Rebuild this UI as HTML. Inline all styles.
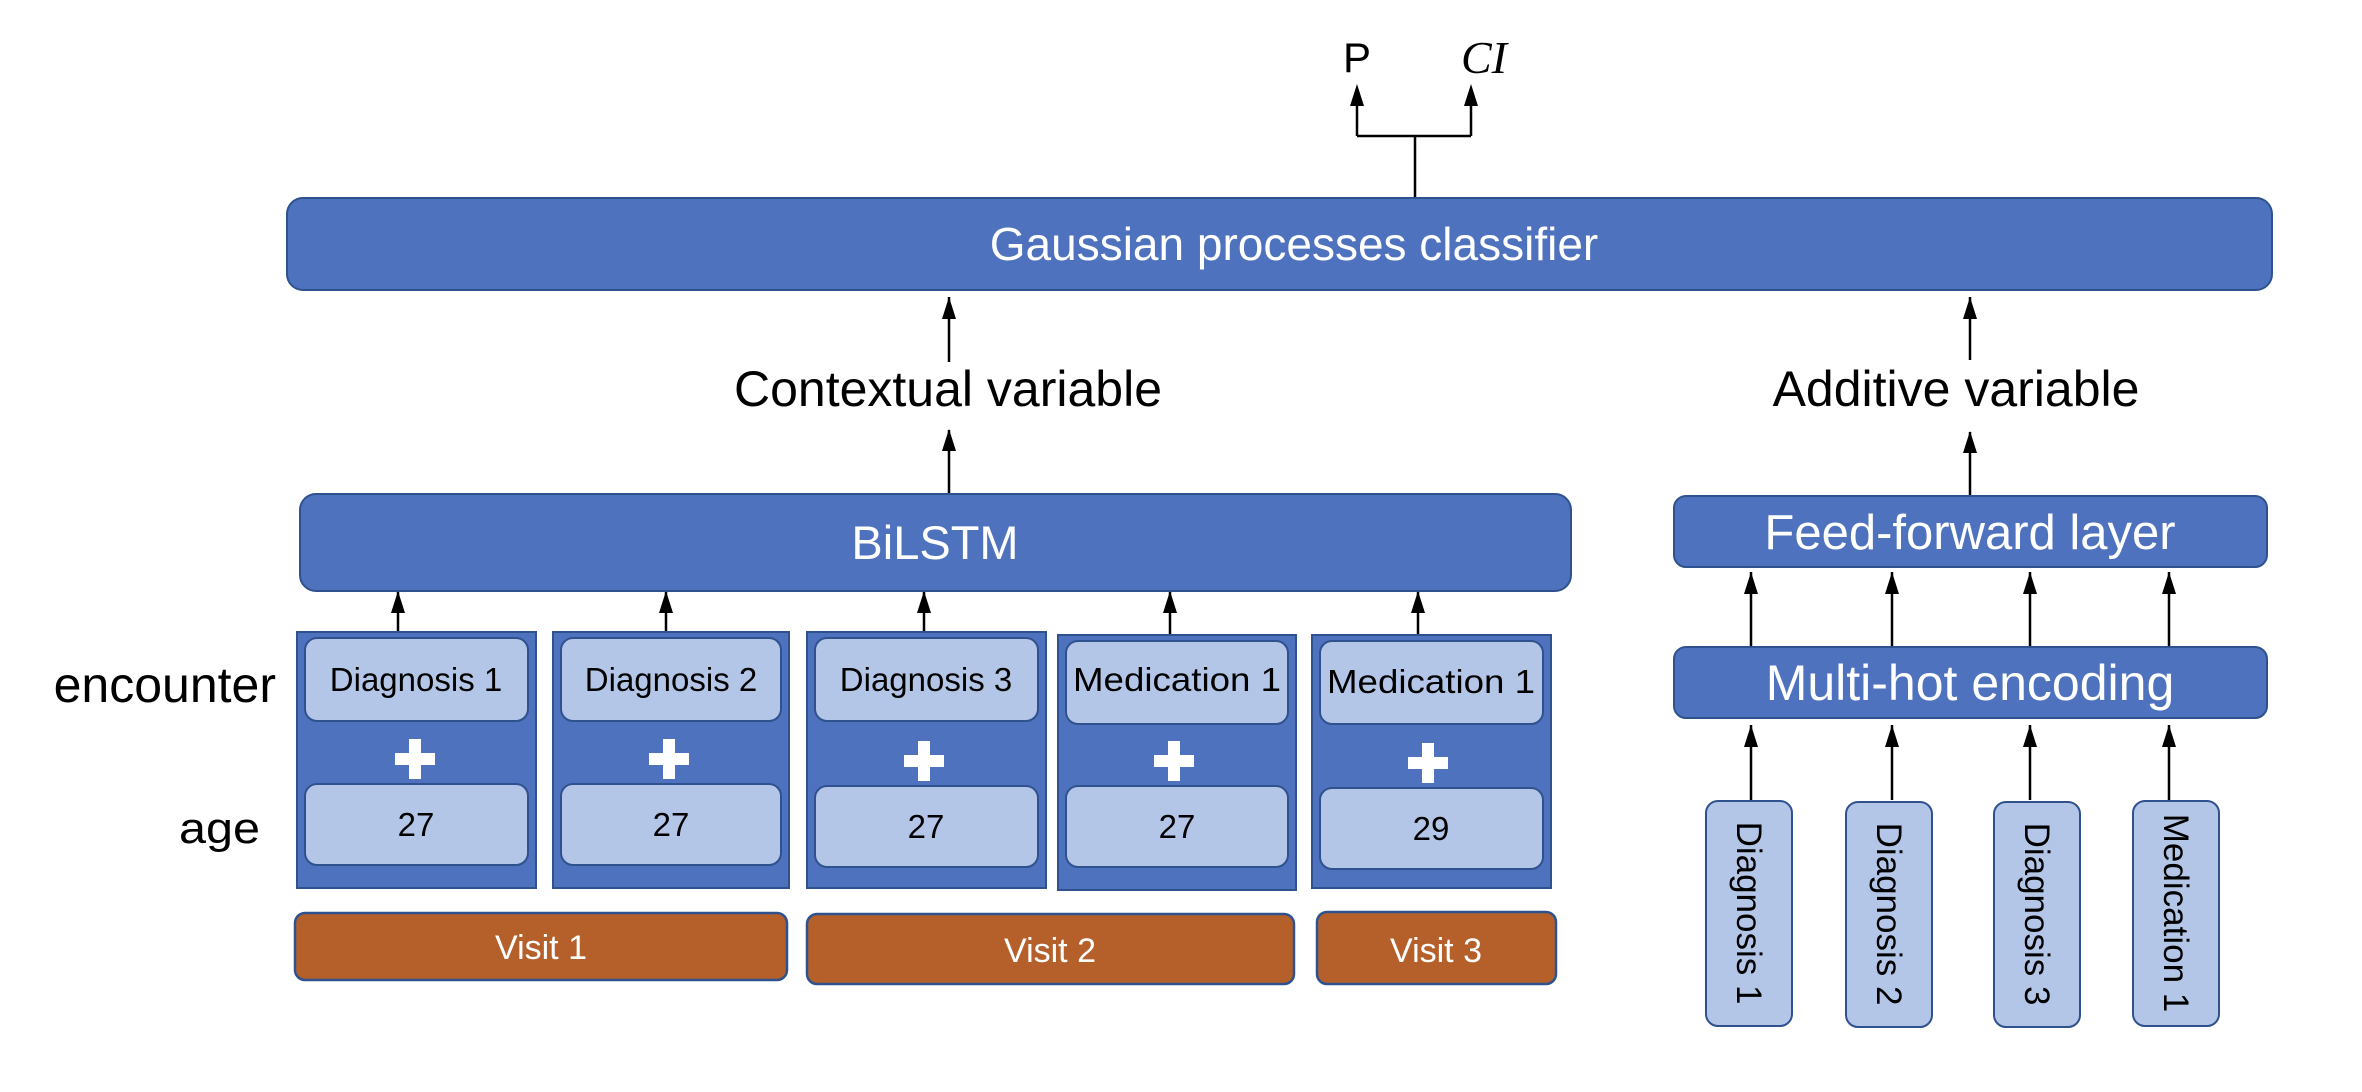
<!DOCTYPE html>
<html><head><meta charset="utf-8"><style>html,body{margin:0;padding:0;background:#fff}svg{display:block}</style></head>
<body>
<svg width="2362" height="1092" viewBox="0 0 2362 1092" xmlns="http://www.w3.org/2000/svg" font-family="Liberation Sans, sans-serif">
<!-- top outputs -->
<text x="1357" y="72" font-size="42" text-anchor="middle">P</text>
<text x="1484" y="73" font-size="46" text-anchor="middle" font-style="italic" font-family="Liberation Serif, serif">CI</text>
<g stroke="#000" stroke-width="2.5" fill="none">
<path d="M1415 197 V136 M1357 136 H1471 M1357 136 V100 M1471 136 V100"/>
<path d="M949 297 V362 M949 430 V494"/>
<path d="M1970 297 V360 M1970 432 V495"/>
<path d="M398 591 V632 M666 591 V632 M924 591 V632 M1170 591 V635 M1418 591 V635"/>
<path d="M1751 572 V646 M1892 572 V646 M2030 572 V646 M2169 572 V646"/>
<path d="M1751 725 V800 M1892 725 V800 M2030 725 V800 M2169 725 V800"/>
</g>
<g fill="#000">
<path d="M1357 84 l-7 22 h14 z M1471 84 l-7 22 h14 z"/>
<path d="M949 297 l-7 22 h14 z M949 429 l-7 22 h14 z"/>
<path d="M1970 297 l-7 22 h14 z M1970 431 l-7 22 h14 z"/>
<path d="M398 591 l-7 22 h14 z M666 591 l-7 22 h14 z M924 591 l-7 22 h14 z M1170 591 l-7 22 h14 z M1418 591 l-7 22 h14 z"/>
<path d="M1751 572 l-7 22 h14 z M1892 572 l-7 22 h14 z M2030 572 l-7 22 h14 z M2169 572 l-7 22 h14 z"/>
<path d="M1751 725 l-7 22 h14 z M1892 725 l-7 22 h14 z M2030 725 l-7 22 h14 z M2169 725 l-7 22 h14 z"/>
</g>
<!-- GP -->
<rect x="287" y="198" width="1985" height="92" rx="16" fill="#4e72bd" stroke="#2f528f" stroke-width="2"/>
<text x="1294" y="260" font-size="46" fill="#fff" text-anchor="middle">Gaussian processes classifier</text>
<text x="948" y="406" font-size="50" text-anchor="middle">Contextual variable</text>
<text x="1956" y="406" font-size="50" text-anchor="middle">Additive variable</text>
<!-- BiLSTM -->
<rect x="300" y="494" width="1271" height="97" rx="16" fill="#4e72bd" stroke="#2f528f" stroke-width="2"/>
<text x="935" y="559" font-size="47" fill="#fff" text-anchor="middle">BiLSTM</text>
<!-- labels -->
<text x="276" y="702" font-size="50" text-anchor="end">encounter</text>
<text x="260" y="843" font-size="44" text-anchor="end" textLength="81" lengthAdjust="spacingAndGlyphs">age</text>
<!-- columns -->
<g font-size="33" text-anchor="middle">
<g>
<rect x="297" y="632" width="239" height="256" fill="#4e72bd" stroke="#2f528f" stroke-width="2"/>
<rect x="305" y="638" width="223" height="83" rx="12" fill="#b4c6e7" stroke="#2f528f" stroke-width="2"/>
<rect x="305" y="784" width="223" height="81" rx="12" fill="#b4c6e7" stroke="#2f528f" stroke-width="2"/>
<text x="416" y="691">Diagnosis 1</text><text x="416" y="836">27</text>
</g>
<g>
<rect x="553" y="632" width="236" height="256" fill="#4e72bd" stroke="#2f528f" stroke-width="2"/>
<rect x="561" y="638" width="220" height="83" rx="12" fill="#b4c6e7" stroke="#2f528f" stroke-width="2"/>
<rect x="561" y="784" width="220" height="81" rx="12" fill="#b4c6e7" stroke="#2f528f" stroke-width="2"/>
<text x="671" y="691">Diagnosis 2</text><text x="671" y="836">27</text>
</g>
<g>
<rect x="807" y="632" width="239" height="256" fill="#4e72bd" stroke="#2f528f" stroke-width="2"/>
<rect x="815" y="638" width="223" height="83" rx="12" fill="#b4c6e7" stroke="#2f528f" stroke-width="2"/>
<rect x="815" y="786" width="223" height="81" rx="12" fill="#b4c6e7" stroke="#2f528f" stroke-width="2"/>
<text x="926" y="691">Diagnosis 3</text><text x="926" y="838">27</text>
</g>
<g>
<rect x="1058" y="635" width="238" height="255" fill="#4e72bd" stroke="#2f528f" stroke-width="2"/>
<rect x="1066" y="641" width="222" height="83" rx="12" fill="#b4c6e7" stroke="#2f528f" stroke-width="2"/>
<rect x="1066" y="786" width="222" height="81" rx="12" fill="#b4c6e7" stroke="#2f528f" stroke-width="2"/>
<text x="1177" y="691" textLength="208" lengthAdjust="spacingAndGlyphs">Medication 1</text><text x="1177" y="838">27</text>
</g>
<g>
<rect x="1312" y="635" width="239" height="253" fill="#4e72bd" stroke="#2f528f" stroke-width="2"/>
<rect x="1320" y="641" width="223" height="83" rx="12" fill="#b4c6e7" stroke="#2f528f" stroke-width="2"/>
<rect x="1320" y="788" width="223" height="81" rx="12" fill="#b4c6e7" stroke="#2f528f" stroke-width="2"/>
<text x="1431" y="693" textLength="208" lengthAdjust="spacingAndGlyphs">Medication 1</text><text x="1431" y="840">29</text>
</g>
</g>
<!-- plus signs -->
<g fill="#fff">
<path d="M409 739 h12 v14 h14 v12 h-14 v14 h-12 v-14 h-14 v-12 h14 z"/>
<path d="M663 739 h12 v14 h14 v12 h-14 v14 h-12 v-14 h-14 v-12 h14 z"/>
<path d="M918 741 h12 v14 h14 v12 h-14 v14 h-12 v-14 h-14 v-12 h14 z"/>
<path d="M1168 741 h12 v14 h14 v12 h-14 v14 h-12 v-14 h-14 v-12 h14 z"/>
<path d="M1422 743 h12 v14 h14 v12 h-14 v14 h-12 v-14 h-14 v-12 h14 z"/>
</g>
<!-- visits -->
<g fill="#b5602a" stroke="#2f528f" stroke-width="2.5">
<rect x="295" y="913" width="492" height="67" rx="10"/>
<rect x="807" y="914" width="487" height="70" rx="10"/>
<rect x="1317" y="912" width="239" height="72" rx="10"/>
</g>
<g font-size="34" fill="#fff" text-anchor="middle">
<text x="541" y="959">Visit 1</text>
<text x="1050" y="962">Visit 2</text>
<text x="1436" y="962">Visit 3</text>
</g>
<!-- right side -->
<rect x="1674" y="496" width="593" height="71" rx="12" fill="#4e72bd" stroke="#2f528f" stroke-width="2"/>
<text x="1970" y="549" font-size="49" fill="#fff" text-anchor="middle">Feed-forward layer</text>
<rect x="1674" y="647" width="593" height="71" rx="12" fill="#4e72bd" stroke="#2f528f" stroke-width="2"/>
<text x="1970" y="700" font-size="50" fill="#fff" text-anchor="middle">Multi-hot encoding</text>
<g fill="#b4c6e7" stroke="#2f528f" stroke-width="2">
<rect x="1706" y="801" width="86" height="225" rx="12"/>
<rect x="1846" y="802" width="86" height="225" rx="12"/>
<rect x="1994" y="802" width="86" height="225" rx="12"/>
<rect x="2133" y="801" width="86" height="225" rx="12"/>
</g>
<g font-size="35" text-anchor="middle">
<text transform="translate(1737 913) rotate(90)">Diagnosis 1</text>
<text transform="translate(1877 914) rotate(90)">Diagnosis 2</text>
<text transform="translate(2025 914) rotate(90)">Diagnosis 3</text>
<text transform="translate(2164 913) rotate(90)">Medication 1</text>
</g>
</svg>
</body></html>
